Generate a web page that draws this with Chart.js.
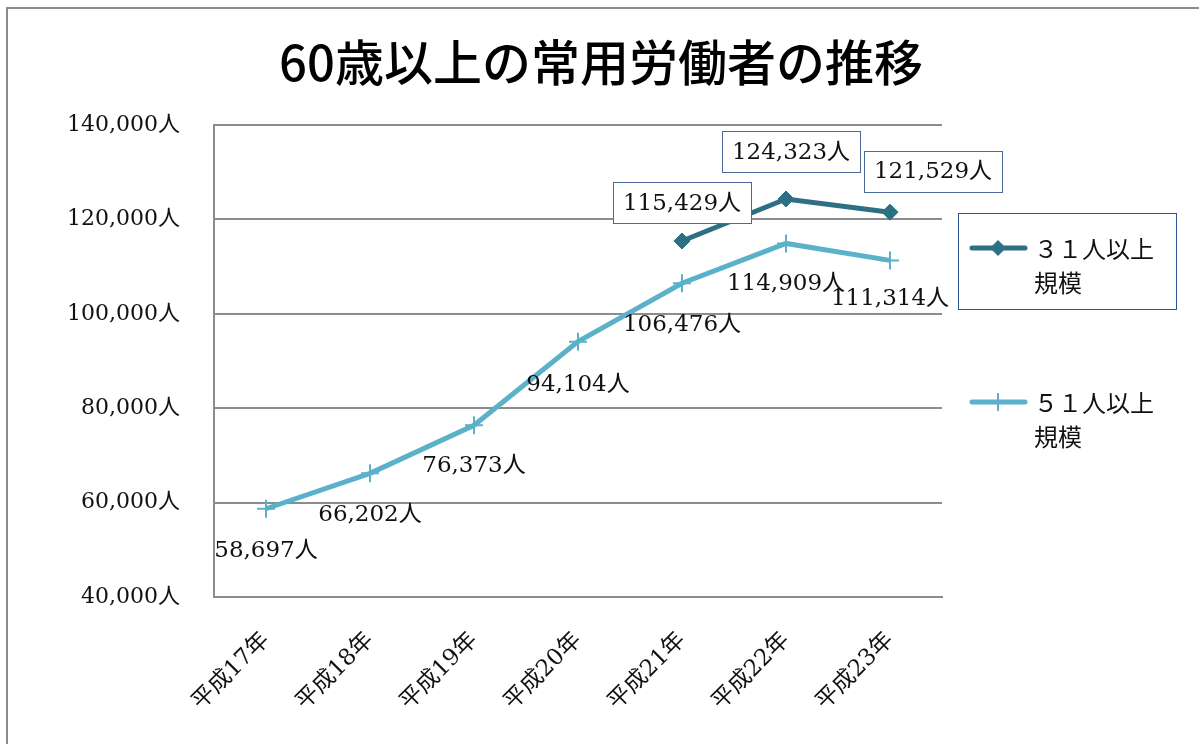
<!DOCTYPE html>
<html>
<head>
<meta charset="utf-8">
<script src="https://cdn.jsdelivr.net/npm/chart.js"></script>
<style>
  html, body { margin: 0; padding: 0; background: #fff; }
  #wrap { width: 1199px; height: 744px; }
</style>
</head>
<body>
<div id="wrap"><canvas id="chart1" width="1199" height="744"></canvas></div>
<script>
// data
const years = ['平成17年', '平成18年', '平成19年', '平成20年', '平成21年', '平成22年', '平成23年'];
const over31 = [null, null, null, null, 115429, 124323, 121529];
const over51 = [58697, 66202, 76373, 94104, 106476, 114909, 111314];
const seriesNames = ['３１人以上規模', '５１人以上規模'];
const titleText = '60歳以上の常用労働者の推移';

const darkTeal = '#2d7083';
const lightTeal = '#5bb1c9';
const serif = '"DejaVu Serif", "Noto Sans CJK JP", serif';

const fmt = v => v.toLocaleString('en-US') + '人';

// frame around the chart (cropped on the right and bottom) + title
const framePlugin = {
  id: 'frame',
  beforeDraw(chart) {
    const c = chart.ctx;
    c.save();
    c.fillStyle = '#fff';
    c.fillRect(0, 0, chart.width, chart.height);
    c.strokeStyle = '#8c8c8c';
    c.lineWidth = 2;
    c.beginPath();
    c.moveTo(7, chart.height);
    c.lineTo(7, 8);
    c.lineTo(chart.width, 8);
    c.stroke();
    // title centred on the whole chart
    c.fillStyle = '#000';
    c.font = '500 49px "Noto Sans CJK JP", sans-serif';
    c.textAlign = 'center';
    c.textBaseline = 'middle';
    c.fillText(titleText, 601, 62);
    c.restore();
  }
};

// value labels next to the points
const valueLabels = {
  id: 'valueLabels',
  afterDatasetsDraw(chart, args, opts) {
    const c = chart.ctx;
    c.save();
    c.font = '23px ' + serif;
    c.textAlign = 'center';
    c.textBaseline = 'middle';
    chart.data.datasets.forEach((ds, di) => {
      const meta = chart.getDatasetMeta(di);
      const nudge = opts.nudges[di];
      meta.data.forEach((pt, i) => {
        const v = ds.data[i];
        if (v == null) return;
        const n = nudge[i] || [0, 0];
        const x = pt.x + n[0];
        const y = pt.y + n[1];
        const txt = fmt(v);
        if (opts.boxed[di]) {
          const w = c.measureText(txt).width + 20;
          const h = 41;
          c.fillStyle = '#fff';
          c.fillRect(x - w / 2, y - h / 2, w, h);
          c.strokeStyle = '#4a6a9c';
          c.lineWidth = 1;
          c.strokeRect(Math.round(x - w / 2) + 0.5, Math.round(y - h / 2) + 0.5, Math.round(w), h);
        }
        c.fillStyle = '#111';
        c.fillText(txt, x, y + 1);
      });
    });
    c.restore();
  }
};

// legend on the right, first entry framed
const sideLegend = {
  id: 'sideLegend',
  afterDraw(chart) {
    const c = chart.ctx;
    const rows = [248, 402];
    c.save();
    chart.data.datasets.forEach((ds, di) => {
      const y = rows[di];
      c.strokeStyle = ds.borderColor;
      c.lineWidth = 5;
      c.lineCap = 'round';
      c.beginPath();
      c.moveTo(972, y);
      c.lineTo(1025, y);
      c.stroke();
      c.fillStyle = ds.borderColor;
      if (ds.pointStyle === 'rectRot') {
        c.beginPath();
        c.moveTo(998, y - 8);
        c.lineTo(1006, y);
        c.lineTo(998, y + 8);
        c.lineTo(990, y);
        c.closePath();
        c.fill();
      } else {
        c.lineWidth = 2;
        c.lineCap = 'butt';
        c.beginPath();
        c.moveTo(998, y - 9);
        c.lineTo(998, y + 9);
        c.stroke();
      }
      const name = ds.label;
      c.fillStyle = '#111';
      c.font = '24px "Noto Sans CJK JP", ' + serif;
      c.textAlign = 'left';
      c.textBaseline = 'middle';
      c.fillText(name.slice(0, 5), 1034, y + 1);
      c.fillText(name.slice(5), 1034, y + 35);
      if (di === 0) {
        c.strokeStyle = '#2f5597';
        c.lineWidth = 1;
        c.strokeRect(958.5, 213.5, 218, 96);
      }
    });
    c.restore();
  }
};

const ctx = document.getElementById('chart1').getContext('2d');
new Chart(ctx, {
  type: 'line',
  data: {
    labels: years,
    datasets: [
      {
        label: seriesNames[0],
        data: over31,
        borderColor: darkTeal,
        backgroundColor: darkTeal,
        borderWidth: 5,
        pointStyle: 'rectRot',
        pointRadius: 8,
        pointBorderWidth: 1,
        spanGaps: false,
        tension: 0
      },
      {
        label: seriesNames[1],
        data: over51,
        borderColor: lightTeal,
        backgroundColor: lightTeal,
        borderWidth: 5,
        pointStyle: 'cross',
        pointRadius: 9,
        pointBorderWidth: 2,
        tension: 0
      }
    ]
  },
  options: {
    responsive: false,
    animation: false,
    layout: { padding: { top: 125, left: 0, right: 257, bottom: 0 } },
    scales: {
      x: {
        offset: true,
        grid: { display: false, drawTicks: false },
        border: { display: true, color: '#8c8c8c', width: 2 },
        ticks: {
          autoSkip: false,
          maxRotation: 45,
          minRotation: 45,
          padding: 30,
          color: '#111',
          font: { size: 23, family: serif }
        },
        afterFit(scale) { scale.height = 147; }
      },
      y: {
        min: 40000,
        max: 140000,
        grid: { color: '#8c8c8c', lineWidth: 2, drawTicks: false },
        border: { display: true, color: '#8c8c8c', width: 2 },
        ticks: {
          stepSize: 20000,
          padding: 34,
          color: '#111',
          font: { size: 22, family: serif },
          callback: v => fmt(v)
        },
        afterFit(scale) { scale.width = 214; }
      }
    },
    plugins: {
      legend: { display: false },
      tooltip: { enabled: false },
      title: { display: false },
      valueLabels: {
        boxed: [true, false],
        nudges: [
          [null, null, null, null, [0, -38], [5, -47], [43, -41]],
          [[0, 41], [0, 41], [0, 40], [0, 42], [0, 41], [0, 40], [0, 38]]
        ]
      }
    }
  },
  plugins: [framePlugin, valueLabels, sideLegend]
});
</script>
</body>
</html>
